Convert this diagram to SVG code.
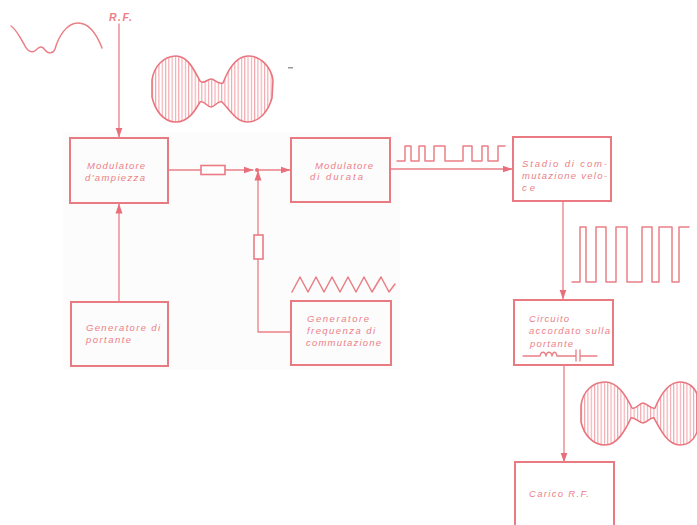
<svg xmlns="http://www.w3.org/2000/svg" width="697" height="525" viewBox="0 0 697 525">
<style>
.l{fill:none;stroke:#ea7f86;stroke-width:1.500;stroke-linejoin:round;stroke-linecap:round}
.c{fill:none;stroke:#ea7f86;stroke-width:1.300;stroke-linejoin:round;stroke-linecap:round}
.b{fill:none;stroke:#ea7a82;stroke-width:2}
.r{fill:#fff;stroke:#ea7a82;stroke-width:1.600}
.e{fill:url(#h);stroke:#e9767f;stroke-width:1.600}
text{font-family:"Liberation Sans",Arial,sans-serif;font-style:italic;font-size:9.500px;fill:#ec7f87}
</style>
<defs>
<pattern id="h" width="3.300" height="10" patternUnits="userSpaceOnUse"><rect width="3.300" height="10" fill="#fff"/><rect width="1.100" height="10" fill="#f2a6ab"/></pattern>
<marker id="a" markerWidth="10" markerHeight="8" refX="9.500" refY="4" orient="auto" markerUnits="userSpaceOnUse"><path d="M0 .5L10 4L0 7.500Z" fill="#e9707a"/></marker>
</defs>
<rect width="697" height="525" fill="#fff"/>
<rect x="63" y="132" width="337" height="238" fill="#fcfcfc"/>
<g id="connectors">
<path class="c" d="M119 24V137" marker-end="url(#a)"/>
<path class="c" d="M119 302V204" marker-end="url(#a)"/>
<path class="c" d="M169 170H253" marker-end="url(#a)"/>
<path class="c" d="M258 170H290" marker-end="url(#a)"/>
<path class="c" d="M291 332H258V171" marker-end="url(#a)"/>
<path class="c" d="M391 169H512" marker-end="url(#a)"/>
<path class="c" d="M563 202V299" marker-end="url(#a)"/>
<path class="c" d="M564 366V462" marker-end="url(#a)"/>
<circle cx="257" cy="170" r="2" fill="#e9707a"/>
<rect class="r" x="201" y="165.500" width="24" height="9"/>
<rect class="r" x="254" y="235" width="9" height="24"/>
</g>
<g id="rf-label"><text x="109" y="21" textLength="23" style="font-size:10.500px;font-weight:bold">R.F.</text></g>
<g id="wave-modulating"><path class="l" d="M11 26C17 30 20 38 24 44C27 51 32 54 36 50C39 47 42 45 45 50C48 54 53 54 55 49C58 38 66 23 78 23C90 23 97 35 102 48"/></g>
<g id="envelope-input"><path class="e" d="M152 80C154 66 164 56 176 56C188 56 194 70 200 81C204 85 207 79 211 79C215 79 218 85 223 83C228 70 236 56 248 56C261 56 271 67 273 80L272 98C268 112 259 122 248 122C236 122 230 110 222 102C218 100 215 107 211 107C207 107 204 100 200 102C195 111 188 122 176 122C163 122 155 110 152 97Z"/></g>
<rect x="288" y="67" width="5" height="1.500" fill="#999"/>
<g id="modulatore-ampiezza"><rect class="b" x="70" y="138" width="98" height="65"/><text x="87" y="169" textLength="58">Modulatore</text><text x="85" y="181" textLength="60">d'ampiezza</text></g>
<g id="generatore-portante"><rect class="b" x="71" y="302" width="97" height="64"/><text x="86" y="331" textLength="74">Generatore di</text><text x="86" y="343" textLength="45">portante</text></g>
<g id="modulatore-durata"><rect class="b" x="291" y="138" width="99" height="64"/><text x="315" y="169" textLength="58">Modulatore</text><text x="310" y="180" textLength="53">di durata</text></g>
<g id="generatore-frequenza"><rect class="b" x="291" y="301" width="100" height="64"/><text x="307" y="322" textLength="62">Generatore</text><text x="307" y="334" textLength="68">frequenza di</text><text x="306" y="346" textLength="75">commutazione</text></g>
<g id="sawtooth"><path class="l" d="M292 292L300 277L308 292L316 277L324 292L332 277L340 292L348 277L356 292L364 277L372 292L381 277L389 292L395 284"/></g>
<g id="pulse-a"><path class="l" d="M397 161H405V146H411V161H419V146H425V161H434V146H445V161H463V146H472V161H482V146H488V161H498V146H505"/></g>
<g id="stadio-commutazione"><rect class="b" x="513" y="137" width="98" height="64"/><text x="522" y="167" textLength="85">Stadio di com-</text><text x="522" y="179" textLength="85">mutazione velo-</text><text x="522" y="191" textLength="13">ce</text></g>
<g id="pulse-b"><path class="l" d="M572 282H580V227H586V282H596V227H606V282H616V227H627V282H642V227H652V282H659V227H672V282H679V227H689"/></g>
<g id="circuito-accordato"><rect class="b" x="514" y="300" width="99" height="65"/><text x="529" y="322" textLength="40">Circuito</text><text x="529" y="334" textLength="81">accordato sulla</text><text x="530" y="347" textLength="43">portante</text>
<path class="c" d="M523 356H540C541 351 545 351 546 356C547 351 551 351 552 356C553 351 556 351 557 356H576M576 350V361M580 350V361M580 356H597"/></g>
<g id="envelope-output"><path class="e" d="M581 405C583 391 593 382 605 382C618 382 626 396 632 408C636 410 639 403 643 403C647 403 651 410 655 408C660 396 668 382 680 382C689 382 695 388 697 394V432C694 440 688 445 680 445C668 445 661 431 654 418C650 417 647 423 643 423C639 423 635 417 631 418C625 431 617 445 605 445C593 445 584 435 581 422Z"/></g>
<g id="carico"><path class="b" d="M515 525V462H614V525"/><text x="529" y="497" textLength="60">Carico R.F.</text></g>
</svg>
